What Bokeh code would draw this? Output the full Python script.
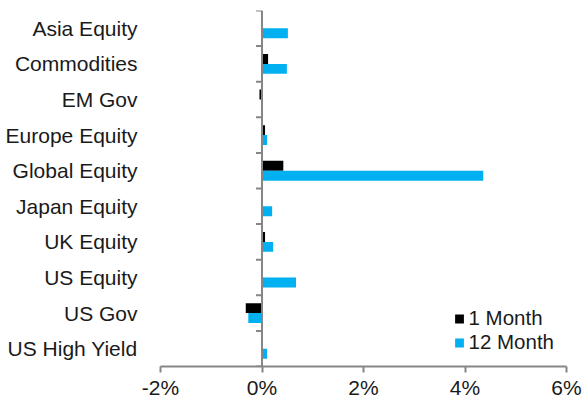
import math
from bokeh.plotting import figure
from bokeh.models import (ColumnDataSource, FixedTicker, LinearAxis, Range1d, Legend, LegendItem,
                          CustomJSTickFormatter, Span)
from bokeh.transform import dodge
from bokeh.embed import file_html
from bokeh.resources import INLINE

categories = ["Asia Equity", "Commodities", "EM Gov", "Europe Equity", "Global Equity",
              "Japan Equity", "UK Equity", "US Equity", "US Gov", "US High Yield"]
one_month = [0.00, 0.12, -0.05, 0.06, 0.42, 0.00, 0.06, 0.01, -0.32, 0.01]
twelve_month = [0.51, 0.49, 0.00, 0.10, 4.36, 0.20, 0.22, 0.67, -0.27, 0.10]
x_ticks = [-2, 0, 2, 4, 6]

n = len(categories)
ypos = [n - i - 0.5 for i in range(n)]
boundaries = list(range(0, n + 1))
src = ColumnDataSource(dict(y=ypos, m1=one_month, m12=twelve_month, cat=categories))

GREY = "#868686"
FONT = "Liberation Sans"
TXT = "#1a1a1a"
FS = "21px"

p = figure(frame_width=406, frame_height=356, min_border_left=160, min_border_right=16,
           min_border_top=10, min_border_bottom=10, output_backend="svg", toolbar_location=None,
           x_range=Range1d(-2, 6), y_range=Range1d(0, n), y_axis_location=None, x_axis_location=None)
p.outline_line_color = None
p.xgrid.visible = False
p.ygrid.visible = False

r1 = p.hbar(y=dodge("y", 0.14, range=p.y_range), left=0, right="m1", height=0.28,
            source=src, fill_color="#000000", line_color=None)
r2 = p.hbar(y=dodge("y", -0.14, range=p.y_range), left=0, right="m12", height=0.28,
            source=src, fill_color="#00B0F0", line_color=None)

# category label axis (left)
lab_axis = LinearAxis(ticker=FixedTicker(ticks=ypos),
                      major_label_overrides={y: c for y, c in zip(ypos, categories)})
lab_axis.axis_line_color = None
lab_axis.major_tick_line_color = None
lab_axis.minor_tick_line_color = None
lab_axis.major_label_standoff = 17
lab_axis.major_label_text_font = FONT
lab_axis.major_label_text_font_size = FS
lab_axis.major_label_text_color = TXT
p.add_layout(lab_axis, "left")

# vertical axis line at zero with tick marks between categories
p.add_layout(Span(location=0, dimension="height", line_color=GREY, line_width=2))
p.ray(x=0, y=boundaries, length=6, length_units="screen", angle=math.pi,
      line_color=GREY, line_width=2)

# x axis
xa = LinearAxis(ticker=FixedTicker(ticks=x_ticks),
                formatter=CustomJSTickFormatter(code="return tick.toFixed(0) + '%';"))
xa.axis_line_color = GREY
xa.axis_line_width = 2
xa.major_tick_line_color = GREY
xa.major_tick_line_width = 2
xa.major_tick_out = 6
xa.major_tick_in = 0
xa.minor_tick_line_color = None
xa.major_label_standoff = 3
xa.major_label_text_font = FONT
xa.major_label_text_font_size = FS
xa.major_label_text_color = TXT
p.add_layout(xa, "below")

legend = Legend(items=[LegendItem(label="1 Month", renderers=[r1]),
                       LegendItem(label="12 Month", renderers=[r2])],
                location="bottom_right")
legend.background_fill_alpha = 0
legend.border_line_color = None
legend.glyph_width = 11
legend.glyph_height = 11
legend.label_standoff = 4
legend.padding = 0
legend.spacing = -3
legend.margin = 12
legend.label_text_font = FONT
legend.label_text_font_size = "20.5px"
legend.label_text_color = TXT
legend.label_height = 20
p.add_layout(legend)

open("out.html", "w").write(file_html(p, INLINE))
